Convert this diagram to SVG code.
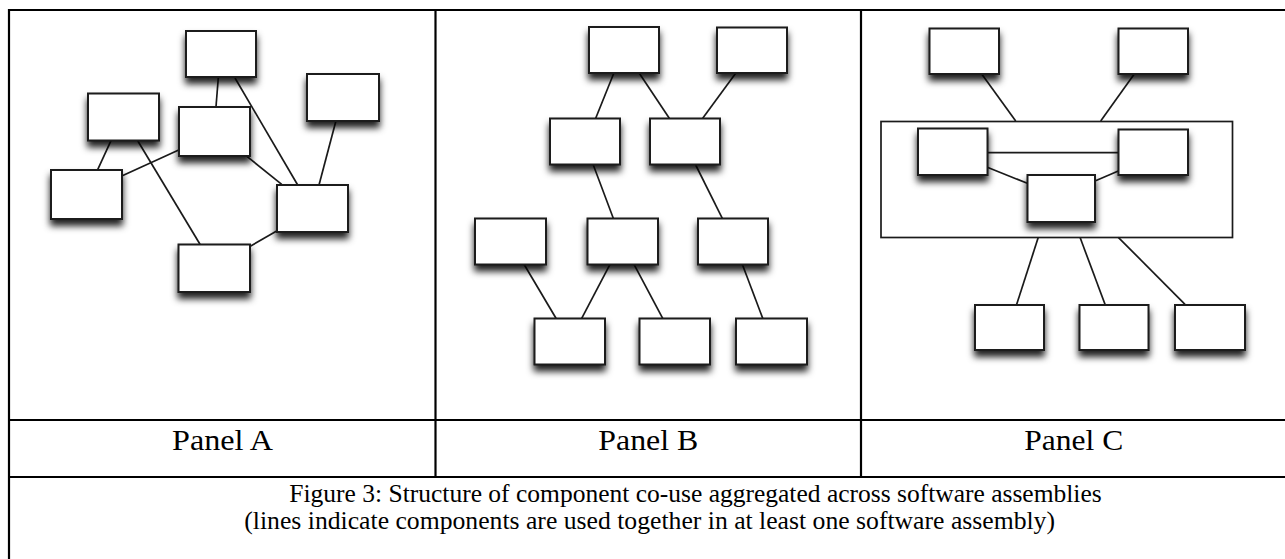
<svg xmlns="http://www.w3.org/2000/svg" width="1285" height="559" viewBox="0 0 1285 559">
<style>
.box{fill:#fff;stroke:#1a1a1a;stroke-width:2;filter:url(#sh)}
.ln{stroke:#1a1a1a;stroke-width:1.7;fill:none}
.tb{stroke:#000;stroke-width:2.2;fill:none}
.lbl{font-family:"Liberation Serif","DejaVu Serif",serif;font-size:30px;fill:#000;text-anchor:middle}
.cap{font-family:"Liberation Serif","DejaVu Serif",serif;font-size:25.5px;fill:#000}
</style>
<defs>
<filter id="sh" x="-30%" y="-30%" width="160%" height="170%">
<feDropShadow dx="0" dy="6" stdDeviation="3.8" flood-color="#000" flood-opacity="0.88"/>
</filter>
</defs>
<rect width="1285" height="559" fill="#fff"/>
<g id="table">
<line class="tb" x1="9" y1="10" x2="1285" y2="10"/>
<line class="tb" x1="9" y1="9" x2="9" y2="559"/>
<line class="tb" x1="435.5" y1="10" x2="435.5" y2="477"/>
<line class="tb" x1="861" y1="10" x2="861" y2="477"/>
<line class="tb" x1="9" y1="420" x2="1285" y2="420"/>
<line class="tb" x1="9" y1="477" x2="1285" y2="477"/>
</g>
<g id="connectors">
<!-- Panel A -->
<line class="ln" x1="218.3" y1="77.7" x2="216" y2="106.7"/>
<line class="ln" x1="235" y1="78" x2="297.7" y2="185"/>
<line class="ln" x1="335.7" y1="121.7" x2="319" y2="185"/>
<line class="ln" x1="246" y1="155.7" x2="281.7" y2="184.3"/>
<line class="ln" x1="111" y1="140.7" x2="97.7" y2="169.7"/>
<line class="ln" x1="137.7" y1="140.7" x2="200" y2="244.3"/>
<line class="ln" x1="122.3" y1="175.7" x2="178.7" y2="150"/>
<line class="ln" x1="250.7" y1="246" x2="276.7" y2="231"/>
<!-- Panel B -->
<line class="ln" x1="614" y1="72.7" x2="595.7" y2="118.3"/>
<line class="ln" x1="639.3" y1="73.3" x2="669.3" y2="118.3"/>
<line class="ln" x1="735.7" y1="73.3" x2="702.7" y2="118.3"/>
<line class="ln" x1="593.3" y1="165" x2="613.3" y2="218.3"/>
<line class="ln" x1="695.7" y1="165" x2="722.3" y2="218.3"/>
<line class="ln" x1="524" y1="264.3" x2="556" y2="318.3"/>
<line class="ln" x1="610" y1="264.3" x2="581.7" y2="318.3"/>
<line class="ln" x1="634" y1="264.3" x2="662.7" y2="318.3"/>
<line class="ln" x1="742.3" y1="264.3" x2="762.7" y2="318.3"/>
<!-- Panel C -->
<line class="ln" x1="981.7" y1="74" x2="1015.7" y2="121"/>
<line class="ln" x1="1134.3" y1="74" x2="1100.7" y2="121"/>
<line class="ln" x1="988" y1="152.7" x2="1118" y2="152.7"/>
<line class="ln" x1="987.3" y1="167.3" x2="1027.3" y2="183.3"/>
<line class="ln" x1="1095" y1="181" x2="1118.3" y2="171"/>
<line class="ln" x1="1038.3" y1="237.3" x2="1016.7" y2="304.3"/>
<line class="ln" x1="1080" y1="237.3" x2="1105" y2="304.3"/>
<line class="ln" x1="1118.3" y1="237.3" x2="1185" y2="304.3"/>
</g>
<g id="container-c"><rect x="881" y="121.5" width="351.5" height="116" fill="none" stroke="#1a1a1a" stroke-width="1.7"/></g>
<!-- Panel A nodes -->
<g id="a1"><rect class="box" x="186" y="31" width="70" height="46"/></g>
<g id="a2"><rect class="box" x="307" y="74" width="72" height="47"/></g>
<g id="a3"><rect class="box" x="88" y="93.5" width="71" height="47"/></g>
<g id="a4"><rect class="box" x="179" y="107" width="71" height="49"/></g>
<g id="a5"><rect class="box" x="51" y="170" width="71" height="49"/></g>
<g id="a6"><rect class="box" x="277" y="185" width="71" height="47"/></g>
<g id="a7"><rect class="box" x="178.5" y="244.5" width="71.5" height="47.5"/></g>
<!-- Panel B nodes -->
<g id="b1"><rect class="box" x="589" y="27" width="70" height="46"/></g>
<g id="b2"><rect class="box" x="717" y="27.5" width="70" height="45.5"/></g>
<g id="b3"><rect class="box" x="550" y="118.5" width="70" height="46"/></g>
<g id="b4"><rect class="box" x="650" y="118.5" width="70" height="46"/></g>
<g id="b5"><rect class="box" x="475" y="218.5" width="71" height="46"/></g>
<g id="b6"><rect class="box" x="587.5" y="218.5" width="70.5" height="46"/></g>
<g id="b7"><rect class="box" x="698" y="218.5" width="70" height="46"/></g>
<g id="b8"><rect class="box" x="534.5" y="318.5" width="70.5" height="46"/></g>
<g id="b9"><rect class="box" x="639.5" y="318.5" width="70.5" height="46"/></g>
<g id="b10"><rect class="box" x="736" y="318.5" width="71" height="46"/></g>
<!-- Panel C nodes -->
<g id="c1"><rect class="box" x="929.5" y="28.5" width="69.5" height="45.5"/></g>
<g id="c2"><rect class="box" x="1118.5" y="28.5" width="69.5" height="45.5"/></g>
<g id="c3"><rect class="box" x="918" y="128.5" width="69.5" height="46.5"/></g>
<g id="c4"><rect class="box" x="1118.5" y="129.5" width="69.5" height="45.5"/></g>
<g id="c5"><rect class="box" x="1027.5" y="175" width="67.5" height="47"/></g>
<g id="c6"><rect class="box" x="975" y="305" width="69" height="45"/></g>
<g id="c7"><rect class="box" x="1079.5" y="305" width="69" height="45"/></g>
<g id="c8"><rect class="box" x="1175" y="305" width="70" height="45"/></g>
<g id="labels">
<text class="lbl" x="222.5" y="450" textLength="101" lengthAdjust="spacingAndGlyphs">Panel A</text>
<text class="lbl" x="648.3" y="450" textLength="100" lengthAdjust="spacingAndGlyphs">Panel B</text>
<text class="lbl" x="1073.8" y="450" textLength="99" lengthAdjust="spacingAndGlyphs">Panel C</text>
<text class="cap" x="289.3" y="501.7" textLength="812.4" lengthAdjust="spacingAndGlyphs">Figure 3: Structure of component co-use aggregated across software assemblies</text>
<text class="cap" x="244.3" y="529" textLength="810.7" lengthAdjust="spacingAndGlyphs">(lines indicate components are used together in at least one software assembly)</text>
</g>
</svg>
